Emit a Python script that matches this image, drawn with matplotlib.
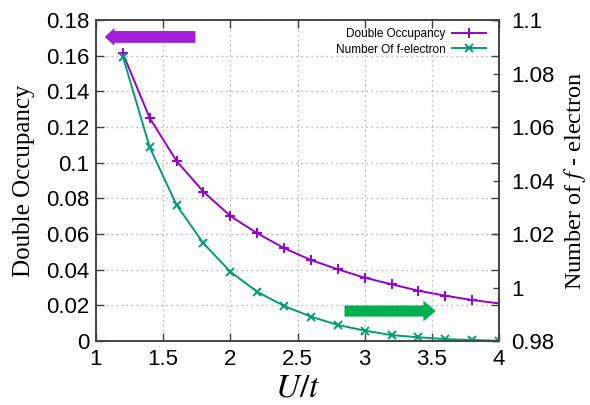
import matplotlib
matplotlib.use("Agg")
import matplotlib.pyplot as plt

plt.rcParams["mathtext.fontset"] = "stix"

# U/t values and the two series
u_t = [1.2, 1.4, 1.6, 1.8, 2.0, 2.2, 2.4, 2.6, 2.8, 3.0, 3.2, 3.4, 3.6, 3.8, 4.0]
double_occ = [0.1613, 0.125, 0.1009, 0.0837, 0.0701, 0.0604, 0.0521, 0.0454,
              0.0402, 0.0355, 0.0318, 0.0282, 0.0254, 0.0230, 0.0211]
n_f = [1.0863, 1.0524, 1.0308, 1.0165, 1.0059, 0.9984, 0.9931, 0.9891,
       0.9860, 0.9839, 0.9822, 0.9814, 0.9807, 0.9804, 0.9801]

x_ticks = [1, 1.5, 2, 2.5, 3, 3.5, 4]
x_labels = ["1", "1.5", "2", "2.5", "3", "3.5", "4"]
y_ticks = [0, 0.02, 0.04, 0.06, 0.08, 0.1, 0.12, 0.14, 0.16, 0.18]
y_labels = ["0", "0.02", "0.04", "0.06", "0.08", "0.1", "0.12", "0.14", "0.16", "0.18"]
y2_ticks = [0.98, 1.0, 1.02, 1.04, 1.06, 1.08, 1.1]
y2_labels = ["0.98", "1", "1.02", "1.04", "1.06", "1.08", "1.1"]

purple = "#9400D3"
green = "#009E73"
tick_font = "Liberation Sans"
label_font = "Liberation Serif"
border = "#404040"

fig = plt.figure(figsize=(5.9, 4.05), dpi=100)
ax = fig.add_axes([0.1627, 0.158, 0.6831, 0.7926])
ax2 = ax.twinx()

l1, = ax.plot(u_t, double_occ, color=purple, lw=1.4, marker="+", ms=7,
              mew=1.4, label="Double Occupancy")
l2, = ax2.plot(u_t, n_f, color=green, lw=1.4, marker="x", ms=5.5,
               mew=1.4, label="Number Of f-electron")

ax.set_xlim(1, 4)
ax.set_ylim(0, 0.18)
ax2.set_ylim(0.98, 1.1)

ax.set_xticks(x_ticks)
ax.set_xticklabels(x_labels, fontsize=16, family=tick_font)
ax.set_yticks(y_ticks)
ax.set_yticklabels(y_labels, fontsize=16, family=tick_font)
ax2.set_yticks(y2_ticks)
ax2.set_yticklabels(y2_labels, fontsize=16, family=tick_font)

ax.tick_params(direction="in", length=6, width=1, top=True, right=True,
               color=border, pad=5)
ax.tick_params(axis="x", pad=6)
ax2.tick_params(direction="in", length=4, width=1, color=border, pad=9)

ax.grid(True, linestyle=(0, (1, 3)), color="#a0a0a0", lw=0.9)
for a in (ax, ax2):
    for s in a.spines.values():
        s.set_color(border)
        s.set_linewidth(1.1)

ax.set_xlabel("$U/t$", fontsize=24, labelpad=0)
ax.set_ylabel("Double Occupancy", fontsize=18, family=label_font, labelpad=8)
ax2.set_ylabel("Number of $f$ - electron", fontsize=17.5, family=label_font,
               labelpad=5)

ax.legend(handles=[l1, l2], loc="upper right", bbox_to_anchor=(0.968, 0.975),
          frameon=False, markerfirst=False,
          prop={"family": tick_font, "size": 8.5}, handlelength=2.9,
          borderaxespad=0, borderpad=0, labelspacing=0.3, handletextpad=0.55)

# direction arrows
ax.annotate("", xy=(1.065, 0.1705), xytext=(1.74, 0.1705),
            arrowprops=dict(arrowstyle="simple,head_length=0.7,head_width=1.3,tail_width=0.85",
                            color="#A020D8", lw=0, shrinkA=0, shrinkB=0))
ax.annotate("", xy=(3.53, 0.0168), xytext=(2.85, 0.0168),
            arrowprops=dict(arrowstyle="simple,head_length=0.9,head_width=1.5,tail_width=0.8",
                            color="#00B050", lw=0, shrinkA=0, shrinkB=0))

fig.savefig("out.png", dpi=100)
